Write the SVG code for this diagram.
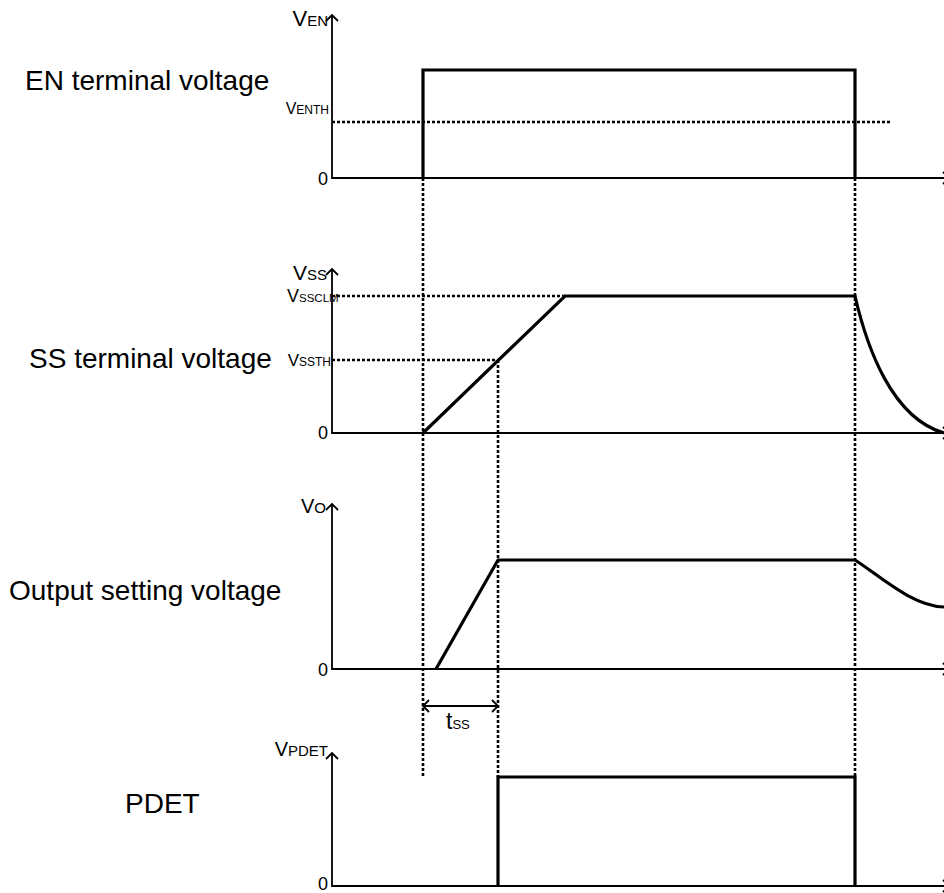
<svg xmlns="http://www.w3.org/2000/svg" width="944" height="893" viewBox="0 0 944 893">
<style>
  text { font-family: "Liberation Sans", Arial, sans-serif; fill: #000; }
  .lbl { font-size: 28px; }
  .zero { font-size: 18px; text-anchor: end; }
  .axis { stroke: #000; stroke-width: 1.8; fill: none; }
  .sig { stroke: #000; stroke-width: 3.2; fill: none; stroke-linejoin: miter; }
  .dot { stroke: #000; stroke-width: 2.6; fill: none; stroke-dasharray: 3 2; }
  .head { stroke: #000; stroke-width: 1.8; fill: none; }
</style>
<rect width="944" height="893" fill="#fff"/>

<g id="guides">
  <line class="dot" x1="332" y1="122" x2="890" y2="122"/>
  <line class="dot" x1="332" y1="296" x2="565" y2="296"/>
  <line class="dot" x1="332" y1="360" x2="498" y2="360"/>
  <line class="dot" x1="423" y1="178" x2="423" y2="776"/>
  <line class="dot" x1="498" y1="360" x2="498" y2="777"/>
  <line class="dot" x1="855" y1="178" x2="855" y2="777"/>
</g>

<g id="en-panel">
  <text class="lbl" x="25" y="90">EN terminal voltage</text>
  <polyline class="axis" points="332,15 332,178 946,178"/>
  <polyline class="head" points="326,21 332,15 338,21"/>
  <polyline class="head" points="943,172 949,178 943,184"/>
  <text x="328" y="26" text-anchor="end"><tspan font-size="22">V</tspan><tspan font-size="15">EN</tspan></text>
  <text x="329" y="114" text-anchor="end"><tspan font-size="16">V</tspan><tspan font-size="12">ENTH</tspan></text>
  <text class="zero" x="328" y="185">0</text>
  <polyline class="sig" points="423,178 423,70 855,70 855,178"/>
</g>

<g id="ss-panel">
  <text class="lbl" x="29" y="368">SS terminal voltage</text>
  <polyline class="axis" points="332,269 332,433 946,433"/>
  <polyline class="head" points="326,275 332,269 338,275"/>
  <polyline class="head" points="943,427 949,433 943,439"/>
  <text x="327" y="280" text-anchor="end"><tspan font-size="21">V</tspan><tspan font-size="15">SS</tspan></text>
  <text x="287" y="302"><tspan font-size="18">V</tspan><tspan font-size="11.5">SSCLM</tspan></text>
  <text x="331" y="366" text-anchor="end"><tspan font-size="17">V</tspan><tspan font-size="12">SSTH</tspan></text>
  <text class="zero" x="328" y="439">0</text>
  <path class="sig" d="M423,433 L565,296 L855,296 C867,348 892,418 944,433"/>
</g>

<g id="vo-panel">
  <text class="lbl" x="9" y="600">Output setting voltage</text>
  <polyline class="axis" points="332,504 332,669 946,669"/>
  <polyline class="head" points="326,510 332,504 338,510"/>
  <polyline class="head" points="943,663 949,669 943,675"/>
  <text x="326" y="513" text-anchor="end"><tspan font-size="20">V</tspan><tspan font-size="15">O</tspan></text>
  <text class="zero" x="328" y="676">0</text>
  <path class="sig" d="M436,669 L498,560 L855,560 C880,576 912,606 944,607"/>
</g>

<g id="tss">
  <line class="axis" x1="423" y1="706" x2="498" y2="706"/>
  <polyline class="head" points="429,700 423,706 429,712"/>
  <polyline class="head" points="492,700 498,706 492,712"/>
  <text x="446" y="729"><tspan font-size="23">t</tspan><tspan font-size="13">SS</tspan></text>
</g>

<g id="pdet-panel">
  <text class="lbl" x="125" y="813">PDET</text>
  <polyline class="axis" points="332,753 332,886 946,886"/>
  <polyline class="head" points="326,759 332,753 338,759"/>
  <polyline class="head" points="943,880 949,886 943,892"/>
  <text x="328" y="756" text-anchor="end"><tspan font-size="20">V</tspan><tspan font-size="15">PDET</tspan></text>
  <text class="zero" x="328" y="890">0</text>
  <polyline class="sig" points="498,886 498,777 855,777 855,886"/>
</g>
</svg>
